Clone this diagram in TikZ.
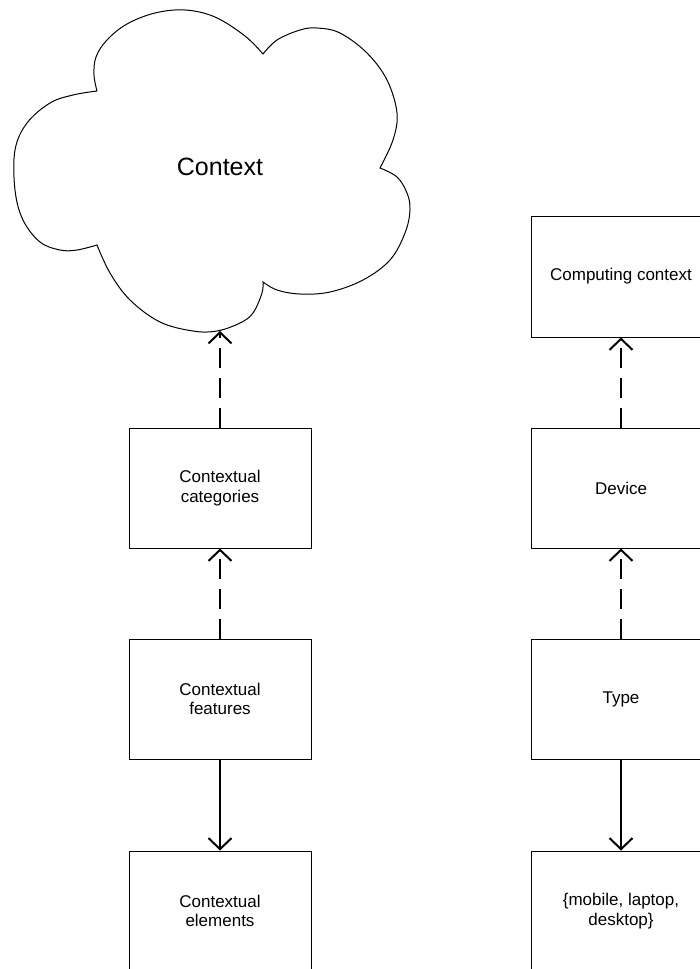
\documentclass[tikz,border=0pt]{standalone}
\usepackage{fontspec}
\setmainfont{Liberation Sans}
\usetikzlibrary{arrows.meta}
\begin{document}
\begin{tikzpicture}[x=1pt,y=-1pt,
  box/.style={draw=black, line width=1pt, minimum width=182pt, minimum height=120pt,
    align=center, inner sep=0pt, font=\fontsize{17pt}{19.5pt}\selectfont},
  rbox/.style={box, minimum width=180pt},
  link/.style={line width=2pt, -{Straight Barb[length=11pt,width=23pt]}},
  linkdash/.style={link, dash pattern=on 20pt off 10pt},
  cloudline/.style={draw=black, line width=1pt},
]
\useasboundingbox (0,0) rectangle (700,969);
\clip (0,0) rectangle (700,969);

% cloud outline: five puffs joined at their notches
\path[cloudline]
  plot[smooth, tension=0.6] coordinates {(97,91) (94,75) (96,57) (107,40) (127,24) (155,13) (185,10) (215,17) (245,36) (263,54)}
  -- plot[smooth, tension=0.6] coordinates {(263,54) (277,40) (300,30) (317,28) (340,33) (367,53) (387,80) (397,113) (393,140) (380,168)}
  -- plot[smooth, tension=0.6] coordinates {(380,168) (397,177) (407,193) (410,210) (405,233) (390,260) (363,280) (330,292) (300,294) (277,290) (263,282)}
  -- plot[smooth, tension=0.6] coordinates {(263,282) (262,293) (253,313) (240,323) (217,331) (193,331) (160,322) (130,300) (110,273) (97,245)}
  -- plot[smooth, tension=0.6] coordinates {(97,245) (77,250) (60,250) (40,242) (23,220) (15,190) (15,150) (27,123) (50,103) (73,95) (97,91)};
\node[font=\fontsize{25pt}{30pt}\selectfont] (context) at (220,167) {Context};
\coordinate (cloudbottom) at (220,331);

% left column
\node[box] (categories) at (220,488) {Contextual\\categories};
\node[box] (features) at (220,699) {Contextual\\features};
\node[box] (elements) at (220,911) {Contextual\\elements};

% right column
\node[rbox, minimum height=121pt] (computing) at (621,276.5) {Computing context};
\node[rbox] (device) at (621,488) {Device};
\node[rbox] (type) at (621,699) {Type};
\node[rbox] (values) at (621,911) {\{mobile, laptop,\\desktop\}};

% connectors
\draw[linkdash] (categories.north) -- (cloudbottom);
\draw[linkdash] (features.north) -- (categories.south);
\draw[link] (features.south) -- (elements.north);
\draw[linkdash] (device.north) -- (computing.south);
\draw[linkdash] (type.north) -- (device.south);
\draw[link] (type.south) -- (values.north);
\end{tikzpicture}
\end{document}
